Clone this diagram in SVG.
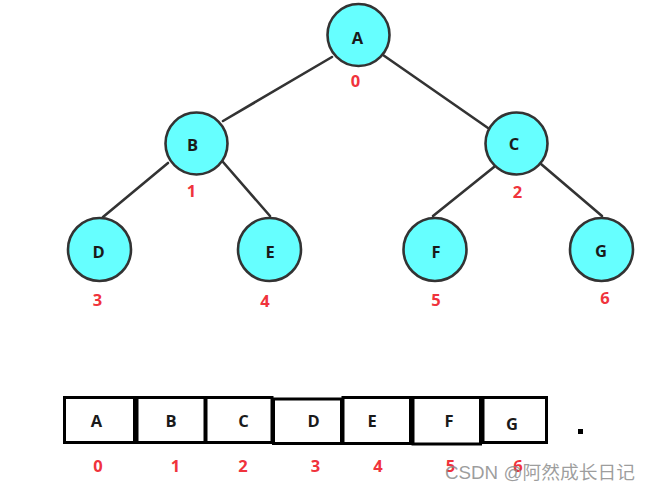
<svg xmlns="http://www.w3.org/2000/svg" width="652" height="492" viewBox="0 0 652 492">
<style>
.n{fill:#66ffff;stroke:#333;stroke-width:2.6}
.e{stroke:#333;stroke-width:2.6;fill:none;stroke-linecap:round}
.t{font-family:"Open Sans","Noto Sans",sans-serif;font-weight:bold;font-size:16.5px;fill:#1a1a1a;text-anchor:middle}
.r{font-family:"Open Sans","Noto Sans",sans-serif;font-weight:bold;font-size:16.5px;fill:#f0333c;text-anchor:middle}
.b{fill:#fff;stroke:#000;stroke-width:3}
.w{font-family:"Liberation Sans","Noto Sans CJK SC",sans-serif;font-size:18px;fill:#8c8c8c;fill-opacity:0.85}
</style>
<rect width="652" height="492" fill="#fff"/>
<g id="connectors">
<line class="e" x1="332" y1="57" x2="223" y2="121"/>
<line class="e" x1="383" y1="55" x2="488" y2="128"/>
<line class="e" x1="168" y1="163" x2="103" y2="217"/>
<line class="e" x1="223" y1="162" x2="270" y2="216"/>
<line class="e" x1="494" y1="167" x2="433" y2="216"/>
<line class="e" x1="541" y1="164" x2="602" y2="216"/>
</g>
<g id="node-A"><circle class="n" cx="358.5" cy="35" r="31"/><text class="t" x="357.5" y="44">A</text><text class="r" x="355.5" y="87">0</text></g>
<g id="node-B"><circle class="n" cx="196.5" cy="143.5" r="31"/><text class="t" x="192.5" y="151">B</text><text class="r" x="191.5" y="197">1</text></g>
<g id="node-C"><circle class="n" cx="516.5" cy="143.5" r="31"/><text class="t" x="514" y="150">C</text><text class="r" x="517.5" y="198">2</text></g>
<g id="node-D"><circle class="n" cx="99.5" cy="249.5" r="31.5"/><text class="t" x="98.5" y="258">D</text><text class="r" x="97.5" y="306">3</text></g>
<g id="node-E"><circle class="n" cx="269.5" cy="249.5" r="31.5"/><text class="t" x="270" y="258">E</text><text class="r" x="265" y="307">4</text></g>
<g id="node-F"><circle class="n" cx="435" cy="249.5" r="31.5"/><text class="t" x="436" y="258">F</text><text class="r" x="436" y="306">5</text></g>
<g id="node-G"><circle class="n" cx="601.5" cy="249.5" r="31.5"/><text class="t" x="601" y="257">G</text><text class="r" x="605" y="304">6</text></g>
<g id="array">
<g id="cell-0"><rect class="b" x="64.5" y="397.5" width="70" height="45"/><text class="t" x="96.5" y="427">A</text><text class="r" x="98" y="472">0</text></g>
<g id="cell-1"><rect class="b" x="137" y="397.5" width="68" height="45"/><text class="t" x="171" y="427">B</text><text class="r" x="175.5" y="472">1</text></g>
<g id="cell-2"><rect class="b" x="206" y="397.5" width="66" height="45"/><text class="t" x="243.5" y="427">C</text><text class="r" x="243" y="472">2</text></g>
<g id="cell-3"><rect class="b" x="273.5" y="399" width="68" height="44.5"/><text class="t" x="313.5" y="427">D</text><text class="r" x="315.5" y="472">3</text></g>
<g id="cell-4"><rect class="b" x="343" y="397.5" width="67.5" height="46"/><text class="t" x="372" y="427">E</text><text class="r" x="378" y="472">4</text></g>
<g id="cell-5"><rect class="b" x="413" y="397.5" width="67.5" height="46.5"/><text class="t" x="449" y="427">F</text><text class="r" x="450.5" y="472">5</text></g>
<g id="cell-6"><rect class="b" x="483" y="397.5" width="63.5" height="45"/><text class="t" x="512" y="430">G</text><text class="r" x="518" y="472">6</text></g>
</g>
<rect x="578" y="429" width="5" height="5" fill="#000"/>
<text class="w" x="445" y="479" textLength="190" lengthAdjust="spacingAndGlyphs">CSDN @阿然成长日记</text>
</svg>
